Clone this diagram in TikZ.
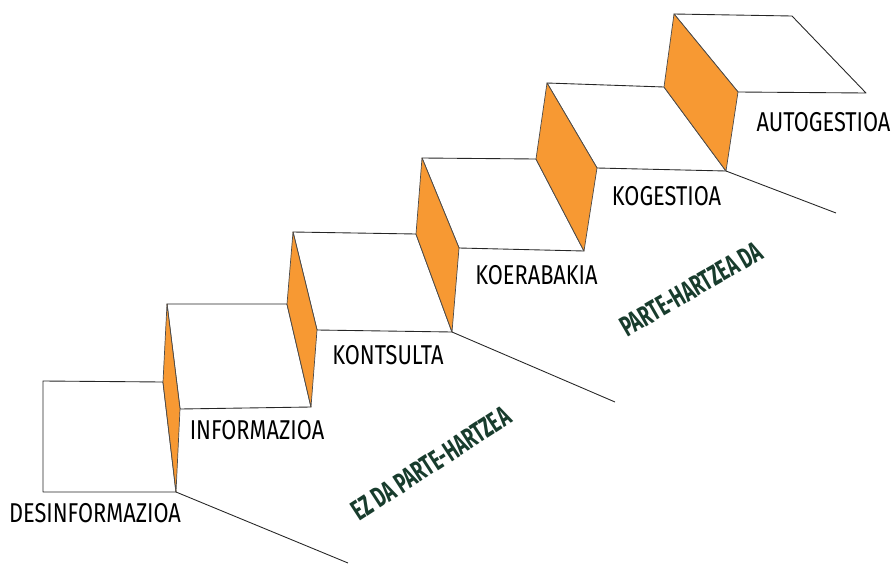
\documentclass[tikz,border=0pt]{standalone}
\usepackage{fontspec}
\usepackage{xcolor}
\setmainfont{Fira Sans}[FakeStretch=0.8]
\newfontfamily\tagfont{Fira Sans}[FakeStretch=0.64]
\definecolor{riser}{RGB}{247,153,51}
\definecolor{taggreen}{RGB}{24,60,45}

\begin{document}
\begin{tikzpicture}[x=0.02cm, y=-0.02cm,
        tread/.style={draw=black!85, line width=0.5pt, fill=white, line join=round},
        risr/.style={draw=black!70, line width=0.4pt, fill=riser, line join=round},
        steplabel/.style={inner sep=0pt, font=\fontsize{15.5}{17}\selectfont},
        tag/.style={inner sep=0pt, text=taggreen, font=\tagfont\fontsize{16.3}{18}\selectfont\bfseries}]
                \useasboundingbox (0,0) rectangle (893,565);
                % first step, seen from the front
                \draw[tread] (43,381) -- (163,382) -- (176,492) -- (43,492) -- cycle;
                % treads
                \draw[tread] (167,304) -- (287,304) -- (311,407) -- (180,409) -- cycle;
                \draw[tread] (293,232) -- (416,234) -- (452,332) -- (317,330) -- cycle;
                \draw[tread] (422,158) -- (536,159) -- (584,251) -- (459,248) -- cycle;
                \draw[tread] (547,83) -- (664,87) -- (726,171) -- (597,168) -- cycle;
                \draw[tread] (674,14) -- (792,16) -- (866,93) -- (738,92) -- cycle;
                % risers
                \draw[risr] (167,304) -- (180,409) -- (176,492) -- (163,382) -- cycle;
                \draw[risr] (293,232) -- (317,330) -- (311,407) -- (287,304) -- cycle;
                \draw[risr] (422,158) -- (459,248) -- (452,332) -- (416,234) -- cycle;
                \draw[risr] (547,83) -- (597,168) -- (584,251) -- (536,159) -- cycle;
                \draw[risr] (674,14) -- (738,92) -- (726,171) -- (664,87) -- cycle;
                % floor lines
                \foreach \a/\b in {{176,492}/{348,563}, {452,332}/{615,402}, {726,171}/{836,213}} {
                        \draw[black!85, line width=0.5pt] (\a) -- (\b);
                    }
                % step names
                \node[steplabel] (desinf) at (95,513) {DESINFORMAZIOA};
                \node[steplabel] (inform) at (257,430.5) {INFORMAZIOA};
                \node[steplabel] (kontsul) at (388,355) {KONTSULTA};
                \node[steplabel] (koeraba) at (536.5,275.5) {KOERABAKIA};
                \node[steplabel] (kogest) at (666.5,196.5) {KOGESTIOA};
                \node[steplabel] (autogest) at (823.5,122) {AUTOGESTIOA};
                % the two groups
                \node[tag, rotate=33] (ezda) at (431,463.5) {EZ DA PARTE-HARTZEA};
                \node[tag, rotate=30] (bada) at (691,289) {PARTE-HARTZEA DA};
            \end{tikzpicture}
\end{document}
